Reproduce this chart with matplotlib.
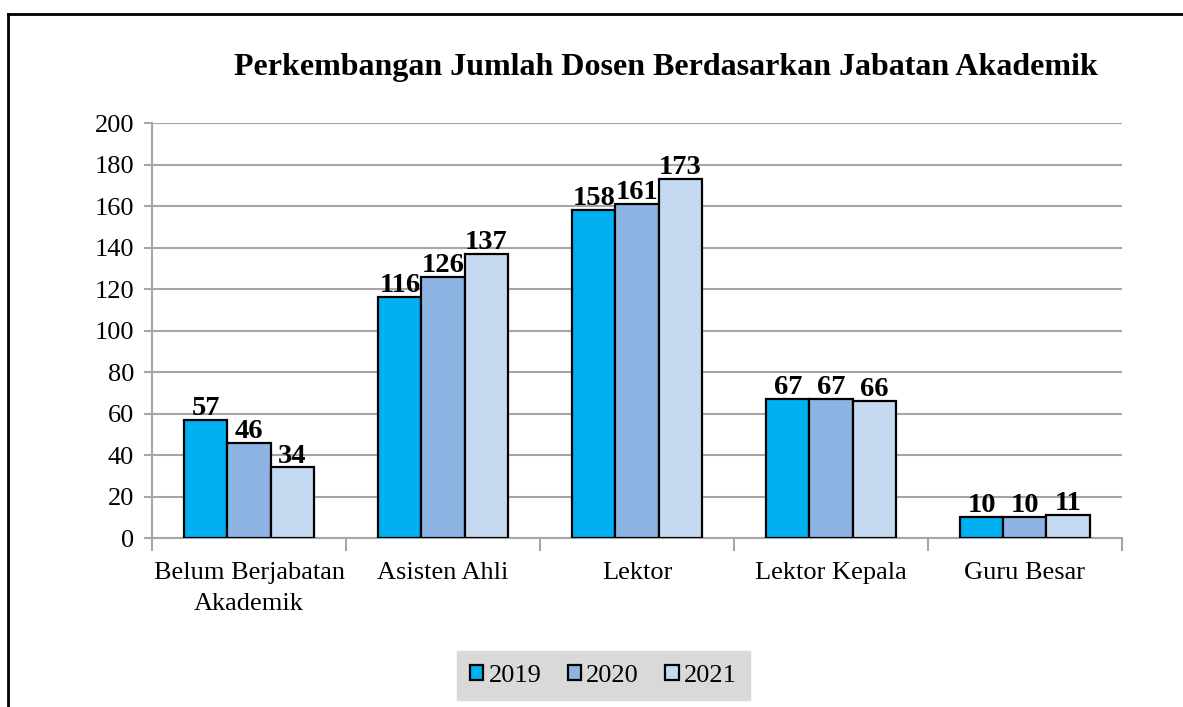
import matplotlib.pyplot as plt
import numpy as np
from matplotlib.lines import Line2D

plt.rcParams['font.family'] = ['Liberation Serif', 'DejaVu Serif']

categories = ['Belum Berjabatan\nAkademik', 'Asisten Ahli', 'Lektor', 'Lektor Kepala', 'Guru Besar']
years = ['2019', '2020', '2021']
v2019 = [57, 116, 158, 67, 10]
v2020 = [46, 126, 161, 67, 10]
v2021 = [34, 137, 173, 66, 11]
colors = ['#00B0F0', '#8DB4E2', '#C5D9F1']

fig = plt.figure(figsize=(11.83, 7.07), dpi=100)
ax = fig.add_axes([0.1285, 0.239, 0.8199, 0.587])

x = np.arange(len(categories))
w = 0.222
grid_c = '#A6A6A6'
for i, (vals, c, yr) in enumerate(zip([v2019, v2020, v2021], colors, years)):
    bars = ax.bar(x + (i - 1) * w, vals, w, color=c, edgecolor='black', linewidth=1.6,
                  label=yr, zorder=3)
    for b, v in zip(bars, vals):
        ax.text(b.get_x() + b.get_width() / 2, v - 0.5, str(v), ha='center', va='bottom',
                fontsize=20.5, fontweight='bold', zorder=4)

ax.set_xlim(-0.5, len(categories) - 0.5)
ax.set_ylim(0, 200)
ax.set_yticks(range(0, 201, 20))
ax.grid(axis='y', color=grid_c, linewidth=1.5, zorder=0)
ax.set_xticks(x)
ax.set_xticklabels(categories, fontsize=19, linespacing=1.55)
ax.set_xticks(np.arange(-0.5, len(categories)), minor=True)
ax.tick_params(axis='x', which='major', length=0, pad=17)
ax.tick_params(axis='x', which='minor', length=9, width=1.5, color=grid_c)
ax.tick_params(axis='y', length=6, width=1.5, color=grid_c, labelsize=19, pad=7)
for s in ['top', 'right']:
    ax.spines[s].set_visible(False)
for s in ['left', 'bottom']:
    ax.spines[s].set_color(grid_c)
    ax.spines[s].set_linewidth(1.5)

fig.text(0.563, 0.904, 'Perkembangan Jumlah Dosen Berdasarkan Jabatan Akademik',
         ha='center', va='center', fontsize=23, fontweight='bold')

leg = fig.legend(loc='center', bbox_to_anchor=(0.51, 0.0445), ncol=3, fontsize=19,
                 frameon=True, fancybox=False, handlelength=0.5, handleheight=0.5,
                 handletextpad=0.2, columnspacing=1.0, borderpad=0.5)
leg.get_frame().set_facecolor('#D9D9D9')
leg.get_frame().set_edgecolor('#D9D9D9')
leg.get_frame().set_alpha(1)

# outer border (top and left only visible)
fig.add_artist(Line2D([8 / 1183, 1], [1 - 14 / 707, 1 - 14 / 707], color='black', linewidth=2))
fig.add_artist(Line2D([8 / 1183, 8 / 1183], [0, 1 - 14 / 707], color='black', linewidth=2))

fig.savefig('out.png', dpi=100)
